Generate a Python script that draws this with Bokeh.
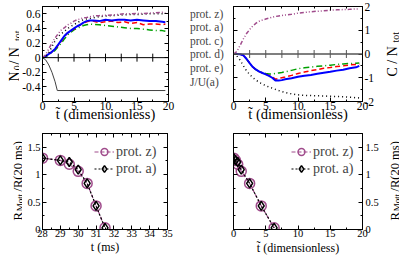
import numpy as np
from bokeh.plotting import figure
from bokeh.layouts import row, column
from bokeh.models import (Range1d, LinearAxis, FixedTicker, Label, Legend,
                          LegendItem, Span, CustomJSTickFormatter)
from bokeh.embed import file_html
from bokeh.resources import INLINE

FONT = "Liberation Serif"

# ---------------- data ----------------
t_top = [0, 0.5, 1, 1.5, 2, 2.5, 3, 3.5, 4, 4.5, 5, 5.5, 6, 6.5, 7, 7.5, 8,
         9, 10, 11, 12, 13, 14, 15, 16, 17, 18, 19, 19.5]

n0_z = [0, .04, .12, .2, .27, .33, .38, .41, .45, .47, .5, .52, .53, .545, .55, .56, .57,
        .575, .58, .585, .59, .6, .6, .605, .605, .61, .615, .62, .615]
n0_a = [0, .02, .07, .15, .23, .29, .33, .36, .4, .43, .45, .48, .5, .52, .53, .535, .545,
        .56, .57, .575, .58, .585, .59, .59, .595, .6, .6, .6, .6]
n0_c = [0, .02, .05, .08, .12, .18, .24, .3, .34, .37, .4, .43, .45, .48, .5, .51, .51,
        .5, .52, .51, .52, .52, .51, .52, .51, .5, .5, .49, .485]
n0_d = [0, .02, .05, .08, .12, .17, .23, .29, .34, .37, .39, .42, .45, .47, .49, .5, .5,
        .48, .49, .5, .48, .49, .47, .48, .45, .46, .46, .45, .46]
n0_e = [0, .01, .04, .07, .1, .15, .2, .26, .31, .35, .38, .4, .42, .44, .45, .46, .455,
        .45, .44, .43, .42, .41, .4, .4, .39, .38, .37, .37, .36]

t_ju = [0, 0.5, 1, 1.5, 2, 2.35, 19.5]
ju_a = [0, -0.03, -0.1, -0.2, -0.33, -0.45, -0.45]

c_z = [0, .1, .35, .62, .85, 1.03, 1.18, 1.3, 1.38, 1.43, 1.47, 1.51, 1.55, 1.58, 1.6, 1.62, 1.64,
       1.67, 1.72, 1.75, 1.78, 1.8, 1.82, 1.84, 1.86, 1.87, 1.88, 1.9, 1.9]
c_a = [0, -.08, -.25, -.48, -.7, -.86, -1.0, -1.1, -1.2, -1.27, -1.33, -1.39, -1.44, -1.49, -1.54,
       -1.58, -1.62, -1.68, -1.72, -1.74, -1.75, -1.76, -1.77, -1.78, -1.79, -1.8, -1.82, -1.84, -1.85]
c_c = [0, 0, -.01, -.05, -.2, -.38, -.55, -.66, -.74, -.8, -.86, -.92, -1.0, -1.12, -1.12, -1.1,
       -1.06, -1.02, -.96, -.92, -.88, -.83, -.79, -.75, -.7, -.66, -.6, -.56, -.5]
c_d = [0, 0, -.01, -.05, -.2, -.38, -.55, -.66, -.74, -.8, -.85, -.9, -.96, -1.06, -1.03, -1.0,
       -.97, -.9, -.82, -.76, -.7, -.66, -.6, -.57, -.53, -.5, -.46, -.44, -.42]
c_e = [0, 0, -.01, -.05, -.2, -.38, -.55, -.66, -.74, -.79, -.82, -.84, -.84, -.82, -.8, -.78,
       -.75, -.69, -.62, -.58, -.55, -.52, -.5, -.47, -.44, -.42, -.4, -.39, -.38]

t_ms = [28, 29, 29.5, 30, 30.5, 31, 31.5]
t_dim_z = [0.05, 0.3, 0.65, 1.2, 2.5, 4.3, 6.3]
t_dim_a = [0.05, 0.3, 0.65, 1.2, 2.5, 4.3, 6.3]
rmott_z = [1.30, 1.26, 1.19, 1.06, 0.84, 0.43, 0.03]
rmott_a = [1.30, 1.26, 1.23, 1.09, 0.84, 0.43, 0.03]

legend_top = ["prot. z)", "prot. a)", "prot. c)", "prot. d)", "prot. e)", "J/U(a)"]
legend_bottom = ["prot. z)", "prot. a)"]

# ticks and tick labels
x_top_ticks = [0, 5, 10, 15, 20]
x_top_labels = ["0", "5", "10", "15", "20"]
x_top_minor = [2.5, 7.5, 12.5, 17.5]
zero_line_ticks = [2.5, 5, 7.5, 10, 12.5, 15, 17.5]
y_n0_ticks = [-0.4, -0.2, 0, 0.2, 0.4, 0.6]
y_n0_labels = ["-0.4", "-0.2", "0", "0.2", "0.4", "0.6"]
y_n0_minor = [-0.5, -0.3, -0.1, 0.1, 0.3, 0.5]
y_c_ticks = [-2, -1, 0, 1, 2]
y_c_labels = ["-2", "-1", "0", "1", "2"]
y_c_minor = [-1.5, -0.5, 0.5, 1.5]
x_ms_ticks = [28, 29, 30, 31, 32, 33, 34, 35]
x_ms_labels = ["28", "29", "30", "31", "32", "33", "34", "35"]
x_ms_minor = [28.5, 29.5, 30.5, 31.5, 32.5, 33.5, 34.5]
y_r_ticks = [0, 0.5, 1, 1.5]
y_r_labels = ["0", "0.5", "1", "1.5"]
y_r_minor = [0.25, 0.75, 1.25]

PURPLE = "#a04c8c"
BLUE = "#0000ff"
RED = "#ff0000"
GREEN = "#00a000"
GRAY = "#404040"

# plot frames inside each row are aligned by the layout: (top, bottom) in row pixels
ROW1_H, ROW1_T, ROW1_B = 127, 6, 101
ROW2_H, ROW2_T, ROW2_B = 133, 6, 102


# ---------------- helpers ----------------
def make_fig(w, h, xr, yr, bl, br, bt, bb, yloc="left"):
    p = figure(width=w, height=h, x_range=Range1d(*xr), y_range=Range1d(*yr),
               output_backend="svg", toolbar_location=None, tools="", title=None,
               x_axis_location="below", y_axis_location=yloc,
               min_border_left=bl, min_border_right=br,
               min_border_top=bt, min_border_bottom=bb)
    p.grid.visible = False
    p.outline_line_color = "black"
    p.background_fill_color = "white"
    p.border_fill_color = "white"
    return p


def strip(w, h, top, bottom):
    # blank panel; its frame is aligned with the row's plot frames (top..bottom),
    # and its data coordinates are the row's pixel coordinates
    p = figure(width=w, height=h, x_range=Range1d(0, w), y_range=Range1d(bottom, top),
               output_backend="svg", toolbar_location=None, tools="", title=None,
               x_axis_location=None, y_axis_location=None,
               min_border_left=0, min_border_right=0,
               min_border_top=top, min_border_bottom=h - bottom)
    p.grid.visible = False
    p.outline_line_color = None
    p.background_fill_color = "white"
    p.border_fill_color = "white"
    return p


def style_axis(ax, ticks, minor, labels=None, size="12px", standoff=2):
    ax.ticker = FixedTicker(ticks=ticks, minor_ticks=minor)
    ax.major_tick_in = 4
    ax.major_tick_out = 0
    ax.minor_tick_in = 2
    ax.minor_tick_out = 0
    ax.axis_line_color = "black"
    ax.major_tick_line_color = "black"
    ax.minor_tick_line_color = "black"
    ax.major_label_text_font = FONT
    ax.major_label_text_color = "black"
    if labels is None:
        ax.formatter = CustomJSTickFormatter(code="return ''")
        ax.major_label_text_font_size = "0px"
        ax.major_label_standoff = 0
    else:
        ax.major_label_text_font_size = size
        ax.major_label_standoff = standoff
        ax.major_label_overrides = {t: s for t, s in zip(ticks, labels)}


def add_frame_axes(p, xt, xm, xl, yt, ym, yl, yside, size, xso, yso, xtitle, xtsize, xtso):
    xb = p.below[0]
    style_axis(xb, xt, xm, xl, size, xso)
    xb.axis_label = xtitle
    xb.axis_label_text_font = FONT
    xb.axis_label_text_font_style = "normal"
    xb.axis_label_text_font_size = f"{xtsize}px"
    xb.axis_label_text_color = "black"
    xb.axis_label_standoff = xtso
    ymain = p.left[0] if yside == "left" else p.right[0]
    style_axis(ymain, yt, ym, yl, size, yso)
    top = LinearAxis()
    style_axis(top, xt, xm)
    p.add_layout(top, "above")
    other = LinearAxis()
    style_axis(other, yt, ym)
    p.add_layout(other, "left" if yside == "right" else "right")


W = {"N": .722, "C": .667, "R": .667, "M": .889, "o": .5, "t": .278, " ": .25,
     "/": .278, "(": .333, ")": .333, "2": .5, "0": .5, "m": .778, "s": .389}


def vlabel(p, x_base, y_start, pieces):
    # vertical text reading bottom->top, in row pixel coordinates
    y = y_start
    for txt, size, sub in pieces:
        xb = x_base + (2.5 if sub else 0)
        p.add_layout(Label(x=xb, y=y, text=txt, angle=np.pi / 2, text_font=FONT,
                           text_font_size=f"{size}px", text_align="left",
                           text_baseline="alphabetic", text_color="black"))
        y -= sum(W.get(ch, .5) for ch in txt) * size * 1.12


# ---------------- row 1 ----------------
yl1 = strip(19, ROW1_H, ROW1_T, ROW1_B)
vlabel(yl1, 14, 81, [("N", 14, False), ("0", 10, True), (" / N", 14, False), ("tot", 10, True)])

f1 = make_fig(157, ROW1_H, (0, 20), (-0.6, 0.7), 21, 8, ROW1_T, ROW1_H - ROW1_B)
add_frame_axes(f1, x_top_ticks, x_top_minor, x_top_labels,
               y_n0_ticks, y_n0_minor, y_n0_labels, "left", "11.5px", 0, 2,
               "t\u0303 (dimensionless)", 14.5, -7)
f1.add_layout(Span(location=0, dimension="width", line_color="black", line_width=1))
f1.scatter(zero_line_ticks, [0] * len(zero_line_ticks), marker="dash", angle=np.pi / 2,
           size=8, line_color="black", line_width=1)
f1.line(t_ju, ju_a, line_color=GRAY, line_width=1)
f1.line(t_top, n0_e, line_color=GREEN, line_width=1.5, line_dash="6 3 1 3")
f1.line(t_top, n0_d, line_color=RED, line_width=1.5, line_dash="5 3")
f1.line(t_top, n0_c, line_color=BLUE, line_width=2)
f1.line(t_top, n0_a, line_color="black", line_width=1.5, line_dash="1 3")
f1.line(t_top, n0_z, line_color=PURPLE, line_width=1.5, line_dash="4 2 1 2 1 2")

# legend column: one single-entry legend per row, so the row pitch can be set
fleg = strip(54, ROW1_H, ROW1_T, ROW1_B)
styles = [(PURPLE, 1.5, "4 2 1 2 1 2"), ("black", 1.5, "1 3"), (BLUE, 2, "solid"),
          (RED, 1.5, "5 3"), (GREEN, 1.5, "6 3 1 3"), (GRAY, 1, "solid")]
ROW_H = 14
for i, (lab, (col, lw, dash)) in enumerate(zip(legend_top, styles)):
    r = fleg.line(x=[], y=[], line_color=col, line_width=lw, line_dash=dash)
    centre = 13.5 + 13.6 * i
    fleg.add_layout(Legend(items=[LegendItem(label=lab, renderers=[r])],
                           location=(0, int(round(ROW1_B - centre - ROW_H / 2))),
                           padding=0, margin=0, spacing=0,
                           glyph_width=13, glyph_height=ROW_H, label_height=ROW_H,
                           label_standoff=1, label_text_font=FONT,
                           label_text_font_size="11.5px",
                           background_fill_alpha=0, border_line_color=None))

f2 = make_fig(147, ROW1_H, (0, 20), (-2, 2), 3, 14, ROW1_T, ROW1_H - ROW1_B, yloc="right")
add_frame_axes(f2, x_top_ticks, x_top_minor, x_top_labels,
               y_c_ticks, y_c_minor, y_c_labels, "right", "11.5px", 0, 2,
               "t\u0303 (dimensionless)", 14.5, -7)
f2.add_layout(Span(location=0, dimension="width", line_color="#555555", line_width=1.5))
f2.scatter(zero_line_ticks, [0] * len(zero_line_ticks), marker="dash", angle=np.pi / 2,
           size=8, line_color="#555555", line_width=1)
f2.line(t_top, c_e, line_color=GREEN, line_width=1.5, line_dash="6 3 1 3")
f2.line(t_top, c_d, line_color=RED, line_width=1.5, line_dash="5 3")
f2.line(t_top, c_c, line_color=BLUE, line_width=2)
f2.line(t_top, c_a, line_color="black", line_width=1.5, line_dash="1 3")
f2.line(t_top, c_z, line_color=PURPLE, line_width=1.5, line_dash="4 2 1 2 1 2")

yl2 = strip(22, ROW1_H, ROW1_T, ROW1_B)
vlabel(yl2, 15, 76, [("C / N", 14, False), ("tot", 10, True)])

# ---------------- row 2 ----------------
yl3 = strip(22, ROW2_H, ROW2_T, ROW2_B)
vlabel(yl3, 17, 93, [("R", 12.5, False), ("Mott", 9, True), ("/R(20 ms)", 12.5, False)])

f3 = make_fig(207, ROW2_H, (28, 35), (0, 1.75), 20, 62, ROW2_T, ROW2_H - ROW2_B)
add_frame_axes(f3, x_ms_ticks, x_ms_minor, x_ms_labels,
               y_r_ticks, y_r_minor, y_r_labels, "left", "10.5px", 0, 2,
               "t (ms)", 12, 0)
lz3 = f3.line(t_ms, rmott_z, line_color=PURPLE, line_width=1.2, line_dash="4 2")
sz3 = f3.scatter(t_ms, rmott_z, marker="circle", size=10, fill_color=None,
                 line_color=PURPLE, line_width=1.5)
la3 = f3.line(t_ms, rmott_a, line_color="black", line_width=1.2, line_dash="2 2")
sa3 = f3.scatter(t_ms, rmott_a, marker="diamond", size=9, fill_color=None,
                 line_color="black", line_width=1.5)
f3.add_layout(Legend(items=[LegendItem(label=legend_bottom[0], renderers=[lz3, sz3]),
                            LegendItem(label=legend_bottom[1], renderers=[la3, sa3])],
                     location=(52, 52), padding=0, margin=0, spacing=0,
                     glyph_width=20, glyph_height=17, label_height=17, label_standoff=2,
                     label_text_font=FONT, label_text_font_size="14px",
                     background_fill_alpha=0, border_line_color=None))

f4 = make_fig(152, ROW2_H, (0, 20), (0, 1.75), 4, 18, ROW2_T, ROW2_H - ROW2_B, yloc="right")
add_frame_axes(f4, x_top_ticks, x_top_minor, x_top_labels,
               y_r_ticks, y_r_minor, y_r_labels, "right", "10.5px", 0, 3,
               "t\u0303 (dimensionless)", 12, 1)
lz4 = f4.line(t_dim_z, rmott_z, line_color=PURPLE, line_width=1.2, line_dash="4 2")
sz4 = f4.scatter(t_dim_z, rmott_z, marker="circle", size=10, fill_color=None,
                 line_color=PURPLE, line_width=1.5)
la4 = f4.line(t_dim_a, rmott_a, line_color="black", line_width=1.2, line_dash="2 2")
sa4 = f4.scatter(t_dim_a, rmott_a, marker="diamond", size=9, fill_color=None,
                 line_color="black", line_width=1.5)
f4.add_layout(Legend(items=[LegendItem(label=legend_bottom[0], renderers=[lz4, sz4]),
                            LegendItem(label=legend_bottom[1], renderers=[la4, sa4])],
                     location=(58, 52), padding=0, margin=0, spacing=0,
                     glyph_width=20, glyph_height=17, label_height=17, label_standoff=2,
                     label_text_font=FONT, label_text_font_size="14px",
                     background_fill_alpha=0, border_line_color=None))

yl4 = strip(18, ROW2_H, ROW2_T, ROW2_B)
vlabel(yl4, 13, 93, [("R", 12.5, False), ("Mott", 9, True), ("/R(20 ms)", 12.5, False)])

layout = column(row(yl1, f1, fleg, f2, yl2), row(yl3, f3, f4, yl4))

open("out.html", "w").write(file_html(layout, INLINE))
